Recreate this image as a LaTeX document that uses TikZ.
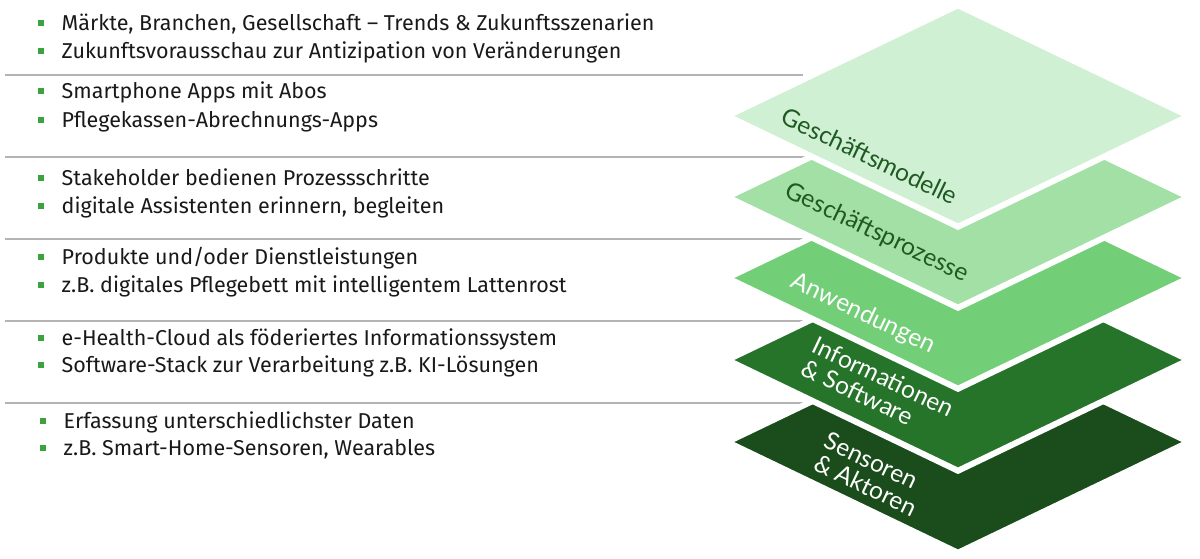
\documentclass[tikz,border=0pt]{standalone}
\usepackage{fontspec}
\setmainfont{Fira Sans}
\newfontfamily\layerfont{Lato}
\usetikzlibrary{shapes.geometric}

\definecolor{modellecol}{HTML}{D0F0D3}
\definecolor{prozessecol}{HTML}{A2E0A6}
\definecolor{anwendcol}{HTML}{72CF78}
\definecolor{infocol}{HTML}{26732A}
\definecolor{sensorcol}{HTML}{1A4D1B}
\definecolor{darklbl}{HTML}{1E5A22}
\definecolor{bulletcol}{HTML}{3BA33B}
\definecolor{sepcol}{HTML}{B4B4B4}

\newcommand\sqbullet{\textcolor{bulletcol}{\rule[4.5pt]{5.5pt}{5.5pt}}\hspace{18pt}}

\begin{document}
\begin{tikzpicture}[x=1pt, y=-1pt,
	layer/.style={draw=white, line width=6pt, shape=diamond, inner sep=0pt, minimum width=464pt, minimum height=224pt},
	item/.style={anchor=base west, inner sep=0pt, font=\fontsize{21.5}{26}\selectfont, text=black!90},
	lbl/.style={rotate=-25.5, align=left, inner sep=0pt, font=\layerfont\fontsize{24.5}{25}\selectfont},
	sep/.style={draw=sepcol, line width=2pt}]
		\useasboundingbox (0,0) rectangle (1200,558);

		% separators
		\draw[sep] (5,75) -- (803,75)
		(5,157) -- (808,157)
		(5,239) -- (808,239)
		(5,321) -- (808,321)
		(5,403) -- (808,403);

		% layers, bottom first
		\path (958,442) node[layer, fill=sensorcol] (sensor) {}
		(958,360) node[layer, fill=infocol] (info) {}
		(958,278) node[layer, fill=anwendcol] (anwend) {}
		(958,197) node[layer, fill=prozessecol] (prozesse) {}
		(958,116) node[layer, fill=modellecol] (modelle) {};

		\path (870,156) node[lbl, text=darklbl] (lmodelle) {Geschäftsmodelle}
		(877,233) node[lbl, text=darklbl] (lprozesse) {Geschäftsprozesse}
		(863,314) node[lbl, text=white] (lanwend) {Anwendungen}
		(878,388) node[lbl, text=white] (linfo) {Informationen\\\& Software}
		(871,474) node[lbl, text=white] (lsensor) {Sensoren\\\& Aktoren};

		% bullet lists
		\path (38,30) node[item] (tr1) {\sqbullet Märkte, Branchen, Gesellschaft – Trends \& Zukunftsszenarien}
		(38,58) node[item] (tr2) {\sqbullet Zukunftsvorausschau zur Antizipation von Veränderungen}
		(38,98) node[item] (gm1) {\sqbullet Smartphone Apps mit Abos}
		(38,127) node[item] (gm2) {\sqbullet Pflegekassen-Abrechnungs-Apps}
		(38,185) node[item] (gp1) {\sqbullet Stakeholder bedienen Prozessschritte}
		(38,213) node[item] (gp2) {\sqbullet digitale Assistenten erinnern, begleiten}
		(38,264) node[item] (an1) {\sqbullet Produkte und/oder Dienstleistungen}
		(38,292) node[item] (an2) {\sqbullet z.B. digitales Pflegebett mit intelligentem Lattenrost}
		(38,345) node[item] (is1) {\sqbullet e-Health-Cloud als föderiertes Informationssystem}
		(38,372) node[item] (is2) {\sqbullet Software-Stack zur Verarbeitung z.B. KI-Lösungen}
		(40,428) node[item] (sa1) {\sqbullet Erfassung unterschiedlichster Daten}
		(40,455) node[item] (sa2) {\sqbullet z.B. Smart-Home-Sensoren, Wearables};
	\end{tikzpicture}
\end{document}
